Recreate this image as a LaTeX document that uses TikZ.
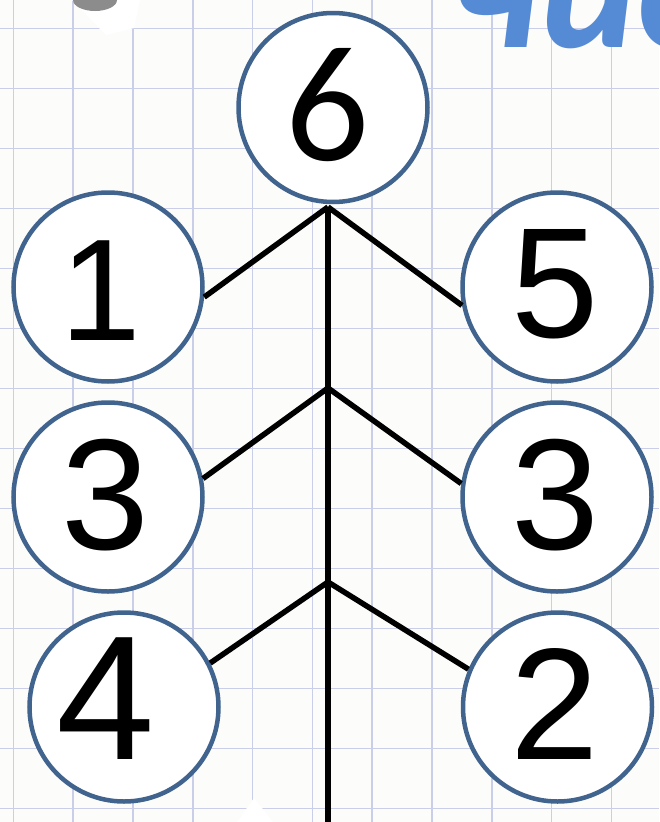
\documentclass[tikz,border=0pt]{standalone}
\usepackage{fontspec}
\newfontfamily\arialf{Liberation Sans}
\newfontfamily\calf{Carlito}
\definecolor{bg}{HTML}{FCFCFA}
\definecolor{gridc}{HTML}{CBCEE8}
\definecolor{ring}{HTML}{41648F}
\definecolor{titleblue}{HTML}{558BD5}
\definecolor{blob}{HTML}{8C8C8C}
\begin{document}
\begin{tikzpicture}[x=1pt,y=-1pt,
  ringnode/.style={circle, draw=ring, line width=4.5pt, fill=white, minimum size=189pt, inner sep=0pt},
  digit/.style={anchor=base, inner sep=0pt, text=black},
  branch/.style={line width=5.5pt, draw=black},
  gridline/.style={draw=gridc, line width=1.6pt},
]
\useasboundingbox (0,0) rectangle (659,822);
\clip (0,0) rectangle (659,822);
\fill[bg] (0,0) rectangle (659,822);
\foreach \i in {0,...,10} \draw[gridline] ({13.3+59.8*\i},0) -- ({13.3+59.8*\i},822);
\foreach \j in {0,...,13} \draw[gridline] (0,{28.3+60*\j}) -- (659,{28.3+60*\j});
% decorations at the edges
\fill[white] (72,0) -- (140,0) -- (134,28) -- (106,35) -- cycle;
\fill[blob] (95,0) ellipse (22 and 11);
\fill[white] (254,798) -- (237,822) -- (273,822) -- cycle;
\node[anchor=base west, inner sep=0pt, text=titleblue, font=\calf\bfseries\itshape\fontsize{185}{185}\selectfont] (title) at (450,47) {чис};
% circles
\node[ringnode] (c6) at (333,107.5) {};
\node[ringnode] (c1) at (108,287) {};
\node[ringnode] (c5) at (557,287) {};
\node[ringnode] (c3l) at (108,497) {};
\node[ringnode] (c3r) at (557,497) {};
\node[ringnode] (c4) at (124,707) {};
\node[ringnode] (c2) at (557.5,707) {};
% digits
\node[digit, font=\calf\fontsize{166}{166}\selectfont] (t6) at (327.5,160) {6};
\node[digit, font=\arialf\fontsize{145}{145}\selectfont] (t1) at (101,340) {1};
\node[digit, font=\arialf\fontsize{157}{157}\selectfont] (t5) at (555.5,337) {5};
\node[digit, font=\arialf\fontsize{158}{158}\selectfont] (t3l) at (105.5,549) {3};
\node[digit, font=\arialf\fontsize{158}{158}\selectfont] (t3r) at (555,549) {3};
\node[digit, font=\arialf\fontsize{177}{177}\selectfont] (t4) at (106,759) {4};
\node[digit, font=\arialf\fontsize{159}{159}\selectfont] (t2) at (554.5,759) {2};
% connectors
\coordinate (j1) at (328,207);
\coordinate (j2) at (328,388);
\coordinate (j3) at (328,582);
\coordinate (bot) at (328,822);
\draw[branch] (j1) -- (bot);
\draw[branch] (j1) -- (c1.-6.5);
\draw[branch] (j1) -- (c5.-169);
\draw[branch] (j2) -- (c3l.11.6);
\draw[branch] (j2) -- (c3r.172.8);
\draw[branch] (j3) -- (c4.27.6);
\draw[branch] (j3) -- (c2.157.8);
\end{tikzpicture}
\end{document}
